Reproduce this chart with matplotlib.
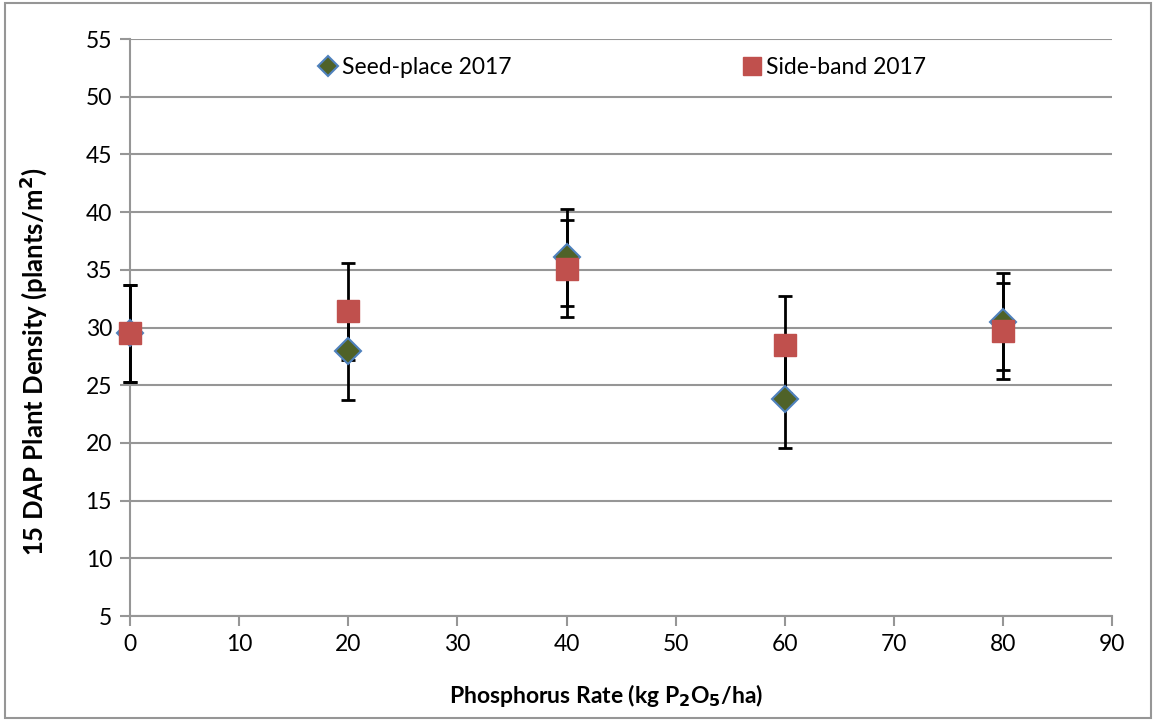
import numpy as np
import matplotlib.pyplot as plt
from matplotlib.patches import Rectangle

# values
rate = [0, 20, 40, 60, 80]
seed_mean = [29.5, 28.0, 36.1, 23.8, 30.5]
seed_err = [4.2, 4.3, 4.2, 4.2, 4.2]
side_mean = [29.5, 31.4, 35.1, 28.5, 29.7]
side_err = [4.2, 4.2, 4.2, 4.2, 4.2]
yticks = [5, 10, 15, 20, 25, 30, 35, 40, 45, 50, 55]
xticks = [0, 10, 20, 30, 40, 50, 60, 70, 80, 90]

plt.rcParams['font.family'] = ['Lato', 'DejaVu Sans']

fig = plt.figure(figsize=(11.56, 7.21), dpi=100)
ax = fig.add_axes([0.1125, 0.1456, 0.8495, 0.8003])

#error bars first, then markers on top
ax.errorbar(rate, seed_mean, yerr=seed_err, fmt='none', ecolor='black',
            elinewidth=2, capsize=5, capthick=2, zorder=3, clip_on=False)
ax.errorbar(rate, side_mean, yerr=side_err, fmt='none', ecolor='black',
            elinewidth=2, capsize=5, capthick=2, zorder=3, clip_on=False)
ax.plot(rate, seed_mean, linestyle='none', marker='D', markersize=13,
        markerfacecolor='#4F6228', markeredgecolor='#4F81BD', markeredgewidth=1.5,
        label='Seed-place 2017', zorder=4, clip_on=False)
ax.plot(rate, side_mean, linestyle='none', marker='s', markersize=16,
        markerfacecolor='#C0504D', markeredgecolor='#C0504D',
        label='Side-band 2017', zorder=5, clip_on=False)

ax.set_xlim(0, 90)
ax.set_ylim(5, 55)
ax.set_xticks(xticks)
ax.set_yticks(yticks)
ax.grid(axis='y', color='#969696', linewidth=1.5)
ax.set_axisbelow(True)
for s in ['top', 'right']:
    ax.spines[s].set_visible(False)
for s in ['left', 'bottom']:
    ax.spines[s].set_color('#969696')
    ax.spines[s].set_linewidth(1.5)
ax.tick_params(axis='both', colors='#969696', width=1.5, length=7, labelsize=16.5,
               labelcolor='black', pad=6)

ax.set_xlabel('Phosphorus Rate (kg P$_\\mathbf{2}$O$_\\mathbf{5}$/ha)', fontsize=16.5,
              fontweight='bold')
ax.set_ylabel('15 DAP Plant Density (plants/m$^\\mathbf{2}$)', fontsize=18.5,
              fontweight='bold')
ax.xaxis.set_label_coords(0.485, -0.115)
ax.yaxis.set_label_coords(-0.083, 0.44)

leg = ax.legend(loc='upper center', bbox_to_anchor=(0.5, 1.005), ncol=2,
                frameon=False, fontsize=16.5, handletextpad=0.1,
                columnspacing=10, markerscale=0.8, handlelength=1)

fig.patches.append(Rectangle((0.004, 0.004), 0.992, 0.992, transform=fig.transFigure,
                             fill=False, edgecolor='#969696', linewidth=1.5))

plt.savefig('out.png', dpi=100)
